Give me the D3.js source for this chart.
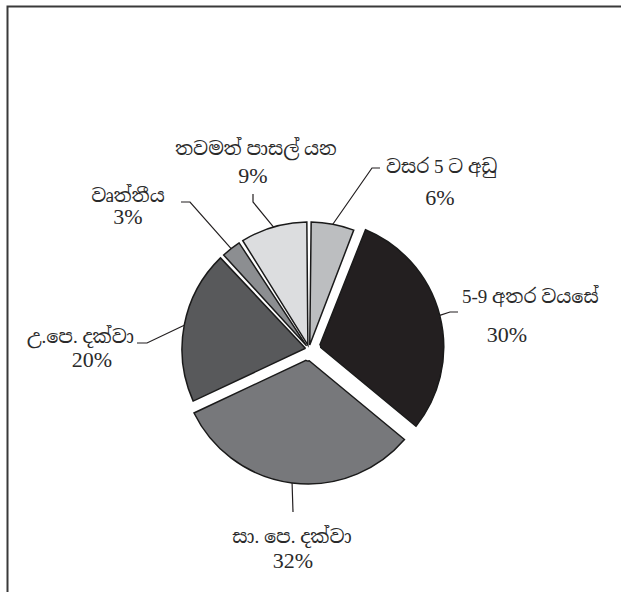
<!DOCTYPE html>
<html>
<head>
<meta charset="utf-8">
<script src="https://cdn.jsdelivr.net/npm/d3@7/dist/d3.min.js"></script>
<style>
  html, body { margin: 0; padding: 0; background: #fff; }
  svg { display: block; }
  text { font-family: "Liberation Serif", "Noto Serif Sinhala", "Noto Sans Sinhala", serif; fill: #2a2a2a; }
</style>
</head>
<body>
<svg id="chart" width="621" height="592"></svg>
<script>
// ---- data ----
const categories = ["වසර 5 ට අඩු", "5-9 අතර වයසේ", "සා. පෙ. දක්වා", "උ.පෙ. දක්වා", "වෘත්තීය", "තවමත් පාසල් යන"];
const values = [6, 30, 32, 20, 3, 9];
const percentLabels = ["6%", "30%", "32%", "20%", "3%", "9%"];
const exploded = [false, true, true, false, false, false];

// ---- styling / layout ----
const colors = ["#bcbec0", "#231f20", "#77787b", "#58595b", "#8c8e91", "#dcdddf"];
const W = 621, H = 592;
const cx = 309, cy = 349, R = 127, explodeDist = 8;

// leader elbows and label anchors (layout)
const layout = [
  { elbow: [372, 168], end: [380, 168], name: [386, 173, "start"], pct: [440, 205] },
  { elbow: [450, 312], end: [458, 312], name: [462, 303, "start"], pct: [507, 342] },
  { elbow: null,       end: [293, 512], name: [292, 543, "middle"], pct: [293, 568] },
  { elbow: [147, 343], end: [137, 343], name: [134, 343, "end"], pct: [92, 367] },
  { elbow: [190, 202], end: [181, 202], name: [128, 202, "middle"], pct: [128, 224] },
  { elbow: [253, 202], end: [253, 194], name: [256, 155, "middle"], pct: [253, 183] }
];

const svg = d3.select("#chart");

// frame
svg.append("path")
  .attr("d", `M7.5,${H} L7.5,6.5 L${W},6.5`)
  .attr("fill", "none").attr("stroke", "#3a3a3a").attr("stroke-width", 2);

const pie = d3.pie().sort(null).value(d => d)(values);
const arc = d3.arc().innerRadius(4).outerRadius(R).padAngle(0.034).padRadius(R);

const g = svg.append("g").attr("transform", `translate(${cx},${cy})`);

function offsetOf(i) {
  if (!exploded[i]) return [0, 0];
  const a = (pie[i].startAngle + pie[i].endAngle) / 2;
  return [Math.sin(a) * explodeDist, -Math.cos(a) * explodeDist];
}

g.selectAll("path.slice")
  .data(pie)
  .join("path")
  .attr("class", "slice")
  .attr("transform", (d, i) => { const o = offsetOf(i); return `translate(${o[0]},${o[1]})`; })
  .attr("d", arc)
  .attr("fill", (d, i) => colors[i])
  .attr("stroke", "#1a1a1a")
  .attr("stroke-width", 1.5)
  .attr("stroke-linejoin", "miter");

// leaders and labels
pie.forEach((d, i) => {
  const a = (d.startAngle + d.endAngle) / 2;
  const o = offsetOf(i);
  const sx = cx + o[0] + Math.sin(a) * R;
  const sy = cy + o[1] - Math.cos(a) * R;
  const L = layout[i];
  const pts = [[sx, sy]];
  if (L.elbow) pts.push(L.elbow);
  pts.push(L.end);
  svg.append("path")
    .attr("d", d3.line()(pts))
    .attr("fill", "none").attr("stroke", "#231f20").attr("stroke-width", 1.2);

  svg.append("text")
    .attr("x", L.name[0]).attr("y", L.name[1])
    .attr("text-anchor", L.name[2])
    .attr("font-size", 19)
    .text(categories[i]);
  svg.append("text")
    .attr("x", L.pct[0]).attr("y", L.pct[1])
    .attr("text-anchor", "middle")
    .attr("font-size", 22)
    .text(percentLabels[i]);
});
</script>
</body>
</html>
